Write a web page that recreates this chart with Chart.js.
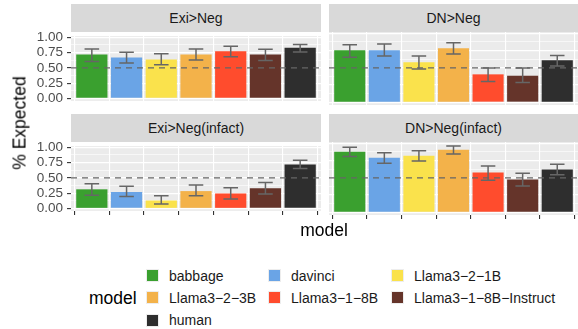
<!DOCTYPE html>
<html><head><meta charset="utf-8">
<script src="https://cdn.jsdelivr.net/npm/chart.js@4"></script>
<style>
body{margin:0;width:578px;height:329px;background:#fff;position:relative;overflow:hidden;font-family:"Liberation Sans",Arial,sans-serif;}
.strip{position:absolute;background:#d9d9d9;color:#1a1a1a;font-size:14px;display:flex;align-items:center;justify-content:center;height:28px;}
canvas{position:absolute;}
.t{position:absolute;white-space:nowrap;}
.key{position:absolute;width:13px;height:13px;box-sizing:border-box;border:1px solid #ededed;}
.lab{position:absolute;font-size:14px;color:#1a1a1a;line-height:16px;white-space:nowrap;}
</style></head><body>
<script>
// ---- data ----
const models = ['babbage','davinci','Llama3\u22122\u22121B','Llama3\u22122\u22123B','Llama3\u22121\u22128B','Llama3\u22121\u22128B\u2212Instruct','human'];
const panelTitles = ['Exi>Neg','DN>Neg','Exi>Neg(infact)','DN>Neg(infact)'];
const exiNegMean = [0.717,0.668,0.639,0.717,0.771,0.717,0.829];
const exiNegLo   = [0.605,0.580,0.551,0.629,0.683,0.620,0.761];
const exiNegHi   = [0.810,0.756,0.732,0.810,0.854,0.805,0.883];
const dnNegMean  = [0.756,0.756,0.580,0.785,0.405,0.385,0.610];
const dnNegLo    = [0.654,0.673,0.483,0.702,0.302,0.288,0.527];
const dnNegHi    = [0.834,0.844,0.673,0.863,0.498,0.498,0.678];
const exiInfMean = [0.313,0.269,0.130,0.284,0.245,0.332,0.721];
const exiInfLo   = [0.216,0.197,0.072,0.207,0.154,0.236,0.654];
const exiInfHi   = [0.404,0.365,0.207,0.385,0.337,0.423,0.788];
const dnInfMean  = [0.880,0.793,0.822,0.909,0.577,0.476,0.620];
const dnInfLo    = [0.808,0.712,0.745,0.846,0.466,0.380,0.543];
const dnInfHi    = [0.942,0.865,0.894,0.962,0.673,0.567,0.697];
const yTickValues = [0,0.25,0.5,0.75,1];
const yTickLabels = ['0.00','0.25','0.50','0.75','1.00'];
const yMinorValues = [0.125,0.375,0.625,0.875];
const refLine = 0.5;

// ---- styles ----
const palette = ['#3aa02f','#6aa4e6','#fae24c','#f3b24a','#ff4c2d','#65342a','#2e2e2e'];

const panelData = [
  [exiNegMean, exiNegLo, exiNegHi],
  [dnNegMean, dnNegLo, dnNegHi],
  [exiInfMean, exiInfLo, exiInfHi],
  [dnInfMean, dnInfLo, dnInfHi]
];
// layout: [canvasLeft, canvasTop, canvasWidth, yAxisWidth, stripLeft, stripTop, stripWidth]
const layout = [
  [0, 24, 321, 71, 71, 4, 250],
  [329, 24, 249, 0, 329, 4, 249],
  [0, 134, 321, 71, 71, 114, 250],
  [329, 134, 249, 0, 329, 114, 249]
];

const panelPlugin = {
  id: 'panel',
  beforeDraw(chart) {
    const a = chart.chartArea, c = chart.ctx;
    c.save(); c.fillStyle = '#ebebeb'; c.fillRect(a.left, a.top, a.right - a.left, a.bottom - a.top); c.restore();
  },
  afterDatasetsDraw(chart) {
    const c = chart.ctx, x = chart.scales.x, y = chart.scales.y, a = chart.chartArea;
    const meta = chart.config.options.plugins.panel;
    c.save();
    c.strokeStyle = '#666666'; c.lineWidth = 1.2; c.setLineDash([6,5]);
    const yr = y.getPixelForValue(refLine);
    c.beginPath(); c.moveTo(a.left, yr); c.lineTo(a.right, yr); c.stroke();
    c.setLineDash([]);
    c.strokeStyle = '#666666'; c.lineWidth = 1.5;
    meta.lo.forEach((lo, i) => {
      const hi = meta.hi[i];
      const xc = x.getPixelForValue(i), xl = x.getPixelForValue(i - 0.21), xr = x.getPixelForValue(i + 0.21);
      const yl = y.getPixelForValue(lo), yh = y.getPixelForValue(hi);
      c.beginPath();
      c.moveTo(xc, yl); c.lineTo(xc, yh);
      c.moveTo(xl, yl); c.lineTo(xr, yl);
      c.moveTo(xl, yh); c.lineTo(xr, yh);
      c.stroke();
    });
    c.restore();
  }
};

panelTitles.forEach((title, p) => {
  const [cl, ct, cw, yw, sl, st, sw] = layout[p];
  const strip = document.createElement('div');
  strip.className = 'strip';
  strip.style.left = sl + 'px'; strip.style.top = st + 'px'; strip.style.width = sw + 'px';
  strip.textContent = title;
  document.body.appendChild(strip);

  const cv = document.createElement('canvas');
  cv.width = cw; cv.height = 89;
  cv.style.left = cl + 'px'; cv.style.top = ct + 'px';
  cv.style.width = cw + 'px'; cv.style.height = '89px';
  document.body.appendChild(cv);

  const [mean, lo, hi] = panelData[p];
  const isLeft = yw > 0, isBottom = p >= 2;
  const allY = yTickValues.concat(yMinorValues).sort((a,b)=>a-b);
  const isMajor = v => yTickValues.some(t => Math.abs(t - v) < 1e-9);
  new Chart(cv, {
    type: 'bar',
    data: { datasets: [{ data: mean.map((v, i) => ({x: i, y: v})), backgroundColor: palette, borderWidth: 0,
      barPercentage: 0.9, categoryPercentage: 1.0 }] },
    options: {
      responsive: false, animation: false, devicePixelRatio: 1,
      layout: { padding: { top: 8, bottom: 8, left: 0, right: 0 } },
      plugins: { legend: { display: false }, tooltip: { enabled: false }, panel: { lo, hi } },
      scales: {
        x: {
          type: 'linear', min: -0.6, max: 6.6, offset: false,
          afterBuildTicks: s => { s.ticks = models.map((m, i) => ({ value: i })); },
          afterFit: s => { s.height = 0; },
          ticks: { display: false, autoSkip: false },
          border: { display: false },
          grid: { color: '#ffffff', lineWidth: 1.1, drawTicks: isBottom, tickLength: 4, tickColor: '#333333', tickWidth: 1.1 }
        },
        y: {
          min: -0.04, max: 1.02,
          afterBuildTicks: s => { s.ticks = allY.map(v => ({ value: v })); },
          afterFit: s => { s.width = yw; },
          border: { display: false },
          ticks: {
            display: isLeft, padding: 4, color: '#4d4d4d', autoSkip: false,
            font: { family: '"Liberation Sans", Arial, sans-serif', size: 13.5 },
            callback: v => { const k = yTickValues.findIndex(t => Math.abs(t - v) < 1e-9); return k >= 0 ? yTickLabels[k] : ''; }
          },
          grid: {
            color: '#ffffff',
            lineWidth: ctx => isMajor(ctx.tick.value) ? 1.2 : 0.6,
            drawTicks: isLeft, tickLength: 4, tickWidth: 1.1,
            tickColor: ctx => isMajor(ctx.tick.value) ? '#333333' : 'rgba(0,0,0,0)'
          }
        }
      }
    },
    plugins: [panelPlugin]
  });
});

const yt = document.createElement('div');
yt.className = 't'; yt.textContent = '% Expected';
yt.style.cssText += 'font-size:17.5px;color:#000;left:20px;top:123px;transform:translate(-50%,-50%) rotate(-90deg);';
document.body.appendChild(yt);
const xt = document.createElement('div');
xt.className = 't'; xt.textContent = 'model';
xt.style.cssText += 'font-size:17.5px;color:#000;left:324px;top:230px;transform:translate(-50%,-50%);';
document.body.appendChild(xt);

const lt = document.createElement('div');
lt.className = 't'; lt.textContent = 'model';
lt.style.cssText += 'font-size:17.5px;color:#000;left:89px;top:297.5px;transform:translateY(-50%);';
document.body.appendChild(lt);
const colX = [146, 268, 391];
const rowY = [275.5, 297.5, 320];
models.forEach((m, i) => {
  const col = i % 3, row = Math.floor(i / 3);
  const k = document.createElement('div');
  k.className = 'key'; k.style.background = palette[i];
  k.style.left = colX[col] + 'px'; k.style.top = (rowY[row] - 6.5) + 'px';
  document.body.appendChild(k);
  const l = document.createElement('div');
  l.className = 'lab'; l.textContent = m;
  l.style.left = (colX[col] + 23) + 'px'; l.style.top = (rowY[row] - 8) + 'px';
  document.body.appendChild(l);
});
</script>
</body></html>
